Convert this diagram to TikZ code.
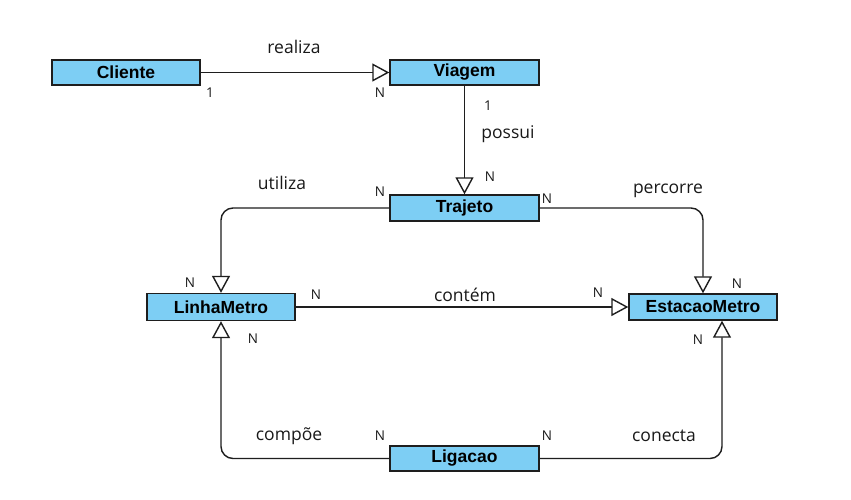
\documentclass[tikz,border=0pt]{standalone}
\usepackage{fontspec}
\setmainfont{Open Sans}
\newfontfamily\boxfont{Liberation Sans}
\usetikzlibrary{arrows.meta}
\definecolor{boxblue}{RGB}{125,206,244}
\definecolor{linec}{RGB}{30,30,30}
\tikzset{
  entity/.style={draw=linec, line width=1.4pt, fill=boxblue, minimum width=148pt, minimum height=25pt, inner sep=0pt, font=\boxfont\bfseries\fontsize{17.5}{19}\selectfont},
  rel/.style={draw=linec, line width=1.4pt, rounded corners=12pt, -{Triangle[open, length=17pt, width=18pt, line width=1.4pt]}},
  lbl/.style={inner sep=0pt, font=\fontsize{17.5}{20}\selectfont, text=black!90},
  card/.style={inner sep=0pt, font=\fontsize{13.5}{15}\selectfont, text=black!90}
}
\begin{document}
\begin{tikzpicture}[x=1pt,y=-1pt]
\path[use as bounding box] (0,0) rectangle (851,499);
\fill[white] (0,0) rectangle (851,499);

\node[entity] (cli) at (126,72.5) {Cliente};
\node[entity, minimum width=149pt] (via) at (464.5,72.5) {Viagem};
\node[entity, minimum width=149pt, minimum height=26pt] (tra) at (464.5,208) {Trajeto};
\node[entity, minimum height=27pt] (lin) at (221,307) {LinhaMetro};
\node[entity, minimum height=26pt] (est) at (703,307) {EstacaoMetro};
\node[entity, minimum width=149pt] (lig) at (464.5,458.5) {Ligacao};

\coordinate (estS) at ([xshift=19pt]est.south);

\draw[rel] (cli.east) -- (via.west);
\draw[rel] (via.south) -- (tra.north);
\draw[rel] (tra.west) -| (lin.north);
\draw[rel] (tra.east) -| (est.north);
\draw[rel] (lin.east) -- (est.west);
\draw[rel] (lig.west) -| (lin.south);
\draw[rel] (lig.east) -| (estS);

% relation labels
\node[lbl] (l1) at (294,47) {realiza};
\node[lbl] (l2) at (508,134) {possui};
\node[lbl] (l3) at (282,183) {utiliza};
\node[lbl] (l4) at (668,191) {percorre};
\node[lbl] (l5) at (465,295) {contém};
\node[lbl] (l6) at (289,436) {compõe};
\node[lbl] (l7) at (664,436) {conecta};

% cardinalities
\node[card] (c1) at (210,93) {1};
\node[card] (c2) at (380,93) {N};
\node[card] (c3) at (488,106) {1};
\node[card] (c4) at (490,177) {N};
\node[card] (c5) at (380,192) {N};
\node[card] (c6) at (547,199) {N};
\node[card] (c7) at (190,283) {N};
\node[card] (c8) at (316,295) {N};
\node[card] (c9) at (598,293) {N};
\node[card] (c10) at (737,284) {N};
\node[card] (c11) at (253,339) {N};
\node[card] (c12) at (698,340) {N};
\node[card] (c13) at (380,436) {N};
\node[card] (c14) at (547,436) {N};
\end{tikzpicture}
\end{document}
